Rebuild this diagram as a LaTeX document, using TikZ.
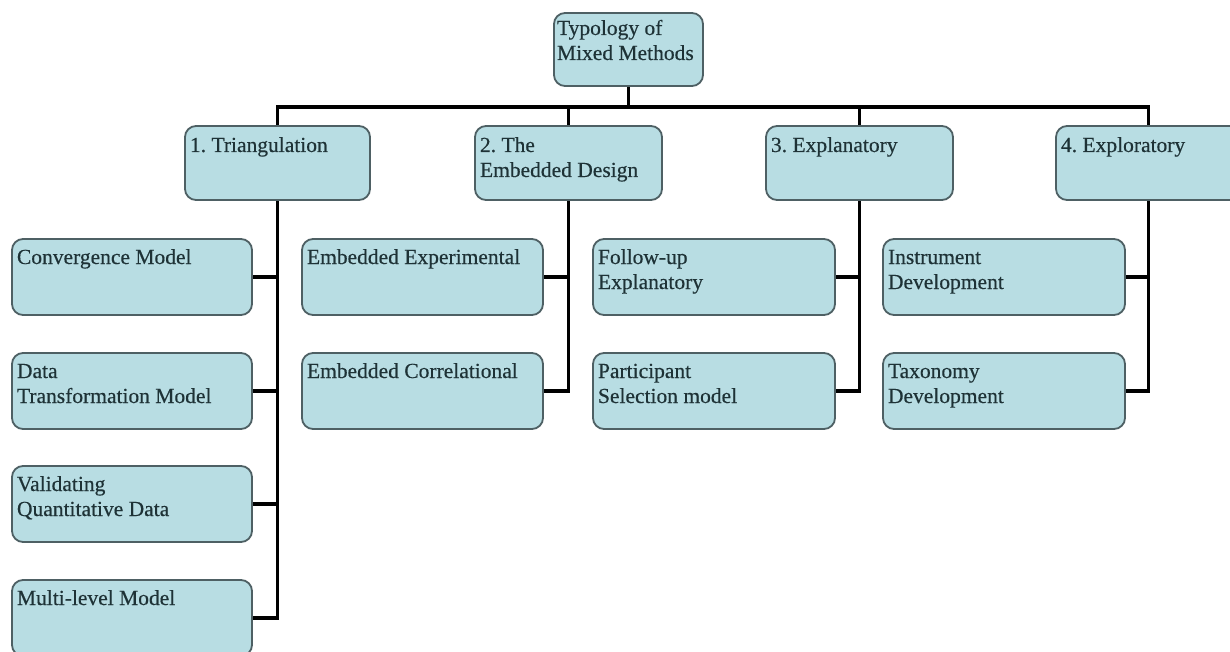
\documentclass[tikz,border=0pt]{standalone}
\usepackage{fontspec}
\setmainfont{Liberation Serif}
\newfontfamily\labelfont{Liberation Serif}[FakeBold=0.4]
\frenchspacing
\definecolor{boxfill}{RGB}{184,221,227}
\definecolor{boxedge}{RGB}{78,96,100}
\definecolor{boxtext}{RGB}{30,50,54}
% #1 text width, #2 box height, #3 depth of first baseline, #4 text
\newcommand{\boxlabel}[4]{\parbox[c][#2][t]{#1}{\labelfont\fontsize{21.5}{25}\selectfont\rule{0pt}{#3}#4}}
\pgfdeclarelayer{bg}
\pgfsetlayers{bg,main}
\begin{document}
\begin{tikzpicture}[x=1pt,y=-1pt,
  box/.style={draw=boxedge, fill=boxfill, line width=1.8pt, rounded corners=11pt,
              inner xsep=5pt, inner ysep=0pt, text=boxtext},
  link/.style={line width=3.8pt, black}]
\useasboundingbox (0,0) rectangle (1230,652);
\clip (0,0) rectangle (1230,652);

% root
\node[box, inner xsep=3pt] (root) at (628.5,49.5) {\boxlabel{143pt}{73pt}{22pt}{Typology of\\Mixed Methods}};

% first level
\node[box] (t1) at (277.5,163) {\boxlabel{175pt}{74pt}{26pt}{1. Triangulation}};
\node[box] (t2) at (568.5,163) {\boxlabel{177pt}{74pt}{26pt}{2. The\\Embedded Design}};
\node[box] (t3) at (859.5,163) {\boxlabel{177pt}{74pt}{26pt}{3. Explanatory}};
\node[box] (t4) at (1148.5,163) {\boxlabel{175pt}{74pt}{26pt}{4. Exploratory}};

% triangulation designs
\node[box] (a1) at (132,277) {\boxlabel{230pt}{76pt}{25pt}{Convergence Model}};
\node[box] (a2) at (132,391) {\boxlabel{230pt}{76pt}{25pt}{Data\\Transformation Model}};
\node[box] (a3) at (132,504) {\boxlabel{230pt}{76pt}{25pt}{Validating\\Quantitative Data}};
\node[box] (a4) at (132,618) {\boxlabel{230pt}{76pt}{25pt}{Multi-level Model}};

% embedded designs
\node[box] (b1) at (422.5,277) {\boxlabel{231pt}{76pt}{25pt}{Embedded Experimental}};
\node[box] (b2) at (422.5,391) {\boxlabel{231pt}{76pt}{25pt}{Embedded Correlational}};

% explanatory designs
\node[box] (c1) at (714,277) {\boxlabel{232pt}{76pt}{25pt}{Follow-up\\Explanatory}};
\node[box] (c2) at (714,391) {\boxlabel{232pt}{76pt}{25pt}{Participant\\Selection model}};

% exploratory designs
\node[box] (d1) at (1004,277) {\boxlabel{232pt}{76pt}{25pt}{Instrument\\Development}};
\node[box] (d2) at (1004,391) {\boxlabel{232pt}{76pt}{25pt}{Taxonomy\\Development}};

\begin{pgfonlayer}{bg}
  \fill[white] (0,0) rectangle (1230,652);
  \foreach \t in {t1,t2,t3,t4}
    \draw[link] (root.south) -- ++(0,20) -| (\t.north);
  \foreach \c in {a1,a2,a3,a4}
    \draw[link] (\c.east) -| (t1.south);
  \foreach \c in {b1,b2}
    \draw[link] (\c.east) -| (t2.south);
  \foreach \c in {c1,c2}
    \draw[link] (\c.east) -| (t3.south);
  \foreach \c in {d1,d2}
    \draw[link] (\c.east) -| (t4.south);
\end{pgfonlayer}
\end{tikzpicture}
\end{document}
